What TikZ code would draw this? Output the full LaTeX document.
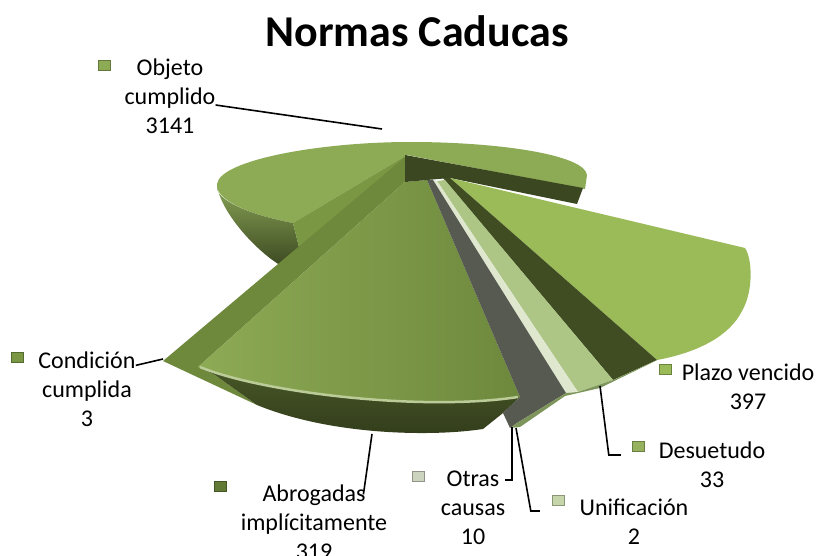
\documentclass[tikz,border=0pt]{standalone}
\usepackage{fontspec}
\setmainfont{Carlito}
\usetikzlibrary{positioning}
\definecolor{topgreen}{HTML}{8DAA55}
\definecolor{cutgreen}{HTML}{7A9843}
\definecolor{darkband}{HTML}{3B4720}
\definecolor{plazogreen}{HTML}{9BBB59}
\definecolor{greystrip}{HTML}{575A50}
\definecolor{palestrip}{HTML}{DFE8CF}
\definecolor{lightstrip}{HTML}{ADC585}
\definecolor{skirtgreen}{HTML}{7D955A}
\tikzset{
  lbl/.style={font=\fontsize{24}{29}\selectfont, align=center, inner sep=0pt},
  key/.style={draw=#1!70!black, fill=#1, minimum width=12pt, minimum height=10pt, inner sep=0pt},
  leader/.style={draw=black, line width=1.6pt}
}
\begin{document}
\begin{tikzpicture}[x=1pt,y=-1pt]
\useasboundingbox (0,0) rectangle (824,556);
\node (title) at (417,31) {\fontsize{44}{48}\selectfont\bfseries Normas Caducas};

\fill[topgreen] (407,155) -- (293,223) .. controls (250,215) and (215,200) .. (217,184)
  .. controls (220,160) and (320,142) .. (410,142) .. controls (500,142) and (585,155) .. (587,175) -- (585,189) -- cycle;
\shade[top color=cutgreen!90!white, bottom color=darkband] (217,186) .. controls (222,215) and (260,255) .. (285,268) -- (300,266)
  -- (300,251) -- (293,223) .. controls (250,215) and (215,200) .. (217,186);
\fill[cutgreen] (293,223) -- (407,155) -- (405,182) -- (300,251) -- cycle;
\fill[cutgreen!90!black] (163,361) -- (405,157) -- (405,182) -- (198,367) -- (215,375) -- (257,405) -- cycle;
\shade[top color=darkband!80!cutgreen, bottom color=darkband!85!black] (198,367) .. controls (260,392) and (420,412) .. (520,397)
  -- (503,413) -- (483,429) .. controls (430,437) and (330,435) .. (257,405) -- (215,375) -- cycle;
\shade[left color=topgreen, middle color=topgreen!85!white, right color=cutgreen!90!black] (405,182) -- (198,367)
  .. controls (260,392) and (420,412) .. (520,397) -- (427,180) -- cycle;
\draw[topgreen!60!white, line width=2.5pt] (200,367) .. controls (260,392) and (420,412) .. (518,397);
\fill[darkband] (405,155) -- (583,188) -- (577,204) -- (450,178) -- (427,180) -- (405,182) -- cycle;
\fill[plazogreen] (450,178) -- (745,248) .. controls (752,258) and (754,290) .. (742,311)
  .. controls (730,335) and (700,352) .. (657,360) -- cycle;
\fill[darkband!95!plazogreen] (443,178) -- (450,178) -- (657,360) -- (613,380) -- cycle;
\fill[lightstrip] (437,181) -- (445,180) -- (613,380) -- (578,392) -- cycle;
\fill[palestrip] (433,180) -- (437,181) -- (578,392) -- (566,393) -- cycle;
\fill[greystrip] (427,180) -- (433,180) -- (566,393) -- (517,423) -- (510,428) -- (503,413) -- (520,397) -- cycle;
\fill[skirtgreen] (510,428) -- (517,423) -- (566,393) -- (578,392) -- (613,380) -- (657,360) -- (645,366)
  -- (600,388) -- (565,396) -- (520,427) -- cycle;

\node[lbl] (objlab) at (170,96) {Objeto\\cumplido\\3141};
\node[key=topgreen] (objkey) at (104,65) {};
\node[lbl] (condlab) at (87,389) {Condición\\cumplida\\3};
\node[key=cutgreen] (condkey) at (17,357) {};
\node[lbl] (abrlab) at (314,522) {Abrogadas\\implícitamente\\319};
\node[key=cutgreen!80!black] (abrkey) at (220,486) {};
\node[lbl] (otrlab) at (473,508) {Otras\\causas\\10};
\node[key=palestrip!80!gray] (otrkey) at (418,476) {};
\node[lbl] (unilab) at (634,522) {Unificación\\2};
\node[key=lightstrip!70!white] (unikey) at (558,500) {};
\node[lbl] (desulab) at (712,465) {Desuetudo\\33};
\node[key=plazogreen!85!gray] (desukey) at (638,446) {};
\node[lbl] (plazolab) at (748,387) {Plazo vencido\\397};
\node[key=plazogreen] (plazokey) at (665,369) {};

\coordinate (objpt) at (382,129);
\coordinate (condpt) at (163,359);
\coordinate (abrpt) at (372,434);
\coordinate (otrpt) at (512,427);
\coordinate (unipt) at (516,428);
\coordinate (desupt) at (600,386);
\draw[leader] ([yshift=-9pt]objlab.east) -- (objpt);
\draw[leader] ([yshift=-14pt]condlab.north east) -- (condpt);
\draw[leader] ([xshift=-24pt,yshift=-10pt]abrlab.north east) -- (abrpt);
\draw[leader] ([yshift=-9pt]otrlab.north east) -| (otrpt);
\draw[leader] ([xshift=-12pt,yshift=-11pt]unikey.west) -- ++(-9,0) -- (unipt);
\draw[leader] ([xshift=-11pt,yshift=-9pt]desukey.west) -- ++(-12,0) -- (desupt);
\end{tikzpicture}
\end{document}
